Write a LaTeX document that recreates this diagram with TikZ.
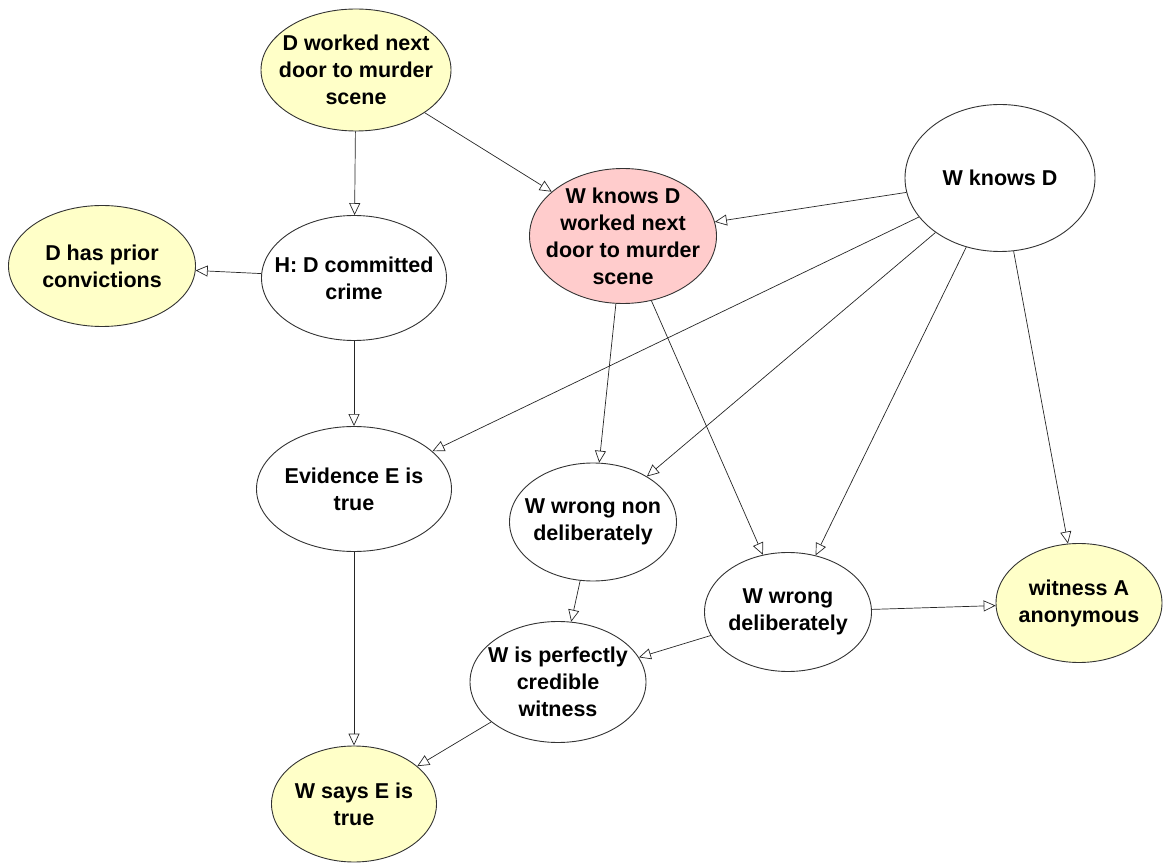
\documentclass[tikz,border=0pt]{standalone}
\usepackage{fontspec}
\setmainfont{Liberation Sans}
\usepackage{tikz}
\usetikzlibrary{arrows.meta, shapes.geometric}

\definecolor{factyellow}{RGB}{255,255,200}
\definecolor{querypink}{RGB}{255,204,204}

\begin{document}
\begin{tikzpicture}[x=1pt, y=-1pt,
		bn/.style={ellipse, draw=black!80, line width=0.9pt, fill=white, inner sep=0pt},
		txt/.style={font=\fontsize{21.5}{27}\selectfont\bfseries, align=center, inner sep=0pt},
		edge/.style={-{Triangle[open, length=12pt, width=11pt]}, line width=0.7pt, draw=black!85}]
	\useasboundingbox (0,0) rectangle (1163,866);

	% evidence nodes (yellow) and the query node (pink)
	\node[bn, fill=factyellow, minimum width=190pt, minimum height=122pt, label={[txt]center:{D worked next\\door to murder\\scene}}] (dw) at (356,70) {};
	\node[bn, fill=factyellow, minimum width=187pt, minimum height=121pt, label={[txt]center:{D has prior\\convictions}}] (prior) at (102,266) {};
	\node[bn, minimum width=185pt, minimum height=125pt, label={[txt]center:{H: D committed\\crime}}] (hc) at (354,278) {};
	\node[bn, fill=querypink, minimum width=187pt, minimum height=135pt, label={[txt]center:{W knows D\\worked next\\door to murder\\scene}}] (wkdw) at (623,236) {};
	\node[bn, minimum width=190pt, minimum height=147pt, label={[txt]center:{W knows D}}] (wkd) at (1000,178) {};
	\node[bn, minimum width=195pt, minimum height=125pt, label={[txt]center:{Evidence E is\\true}}] (ev) at (354,489) {};
	\node[bn, minimum width=167pt, minimum height=118pt, label={[txt]center:{W wrong non\\deliberately}}] (wnon) at (593,522) {};
	\node[bn, minimum width=167pt, minimum height=119pt, label={[txt]center:{W wrong\\deliberately}}] (wdel) at (788,612) {};
	\node[bn, fill=factyellow, minimum width=166pt, minimum height=119pt, label={[txt]center:{witness A\\anonymous}}] (anon) at (1079,603) {};
	\node[bn, minimum width=176pt, minimum height=121pt, label={[txt]center:{W is perfectly\\credible\\witness}}] (cred) at (558,682) {};
	\node[bn, fill=factyellow, minimum width=165pt, minimum height=116pt, label={[txt]center:{W says E is\\true}}] (says) at (354,804) {};

	% links
	\foreach \a/\b in {dw/hc, dw/wkdw, hc/prior, hc/ev, wkd/wkdw, wkd/ev, wkd/wnon, wkd/wdel, wkd/anon,
		wkdw/wnon, wkdw/wdel, ev/says, wnon/cred, wdel/cred, wdel/anon, cred/says}
		\draw[edge] (\a) -- (\b);
\end{tikzpicture}
\end{document}
